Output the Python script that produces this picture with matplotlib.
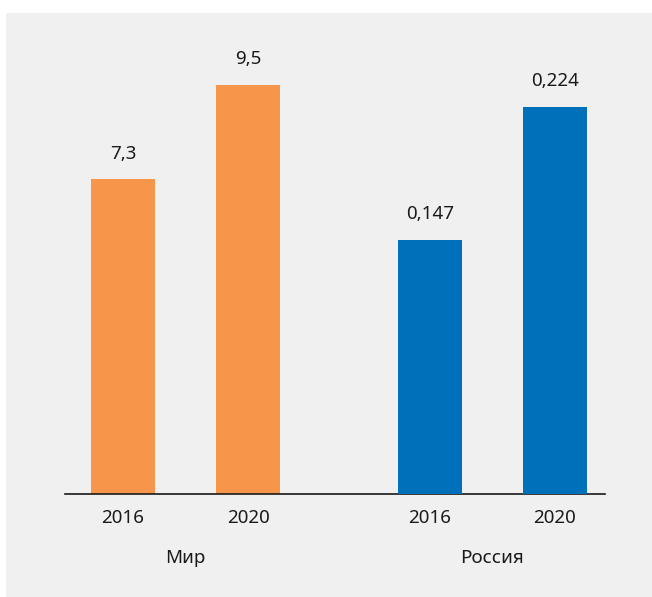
import matplotlib.pyplot as plt
from matplotlib.patches import Rectangle

years = ['2016', '2020']
world_values = [7.3, 9.5]
russia_values = [0.147, 0.224]
world_labels = ['7,3', '9,5']
russia_labels = ['0,147', '0,224']
groups = ['Мир', 'Россия']

plt.rcParams['font.family'] = ['Noto Sans', 'DejaVu Sans']

W, H = 652, 597
fig = plt.figure(figsize=(W / 100, H / 100), dpi=100, facecolor='white')
fig.patches.append(Rectangle((6 / W, 0), 1, (H - 13) / H, transform=fig.transFigure,
                             facecolor='#f0f0f0', edgecolor='none', zorder=-1))

# axes box in pixels: left 65, right 605, baseline 494, top 60
ax = fig.add_axes([65 / W, (H - 494) / H, 540 / W, 434 / H])
ax.patch.set_visible(False)
ax2 = ax.twinx()

x_world = [0, 1]
x_russia = [2.456, 3.456]
bw = 0.512

ax.bar(x_world, world_values, width=bw, color='#f7964a')
ax2.bar(x_russia, russia_values, width=bw, color='#0070ba')

ax.set_xlim(-0.464, 3.856)
ax.set_ylim(0, 10.07)
ax2.set_ylim(0, 0.2513)

fs = 13.5
for a, xs, vals, labs in [(ax, x_world, world_values, world_labels),
                          (ax2, x_russia, russia_values, russia_labels)]:
    for x, v, t in zip(xs, vals, labs):
        a.annotate(t, (x, v), xytext=(0, 12), textcoords='offset points',
                   ha='center', va='bottom', fontsize=fs, color='#1a1a1a')

for a in (ax, ax2):
    for s in ['top', 'right', 'left']:
        a.spines[s].set_visible(False)
    a.set_yticks([])
ax2.spines['bottom'].set_visible(False)
ax.spines['bottom'].set_color('#1a1a1a')
ax.spines['bottom'].set_linewidth(1.2)

ax.set_xticks(x_world + x_russia)
ax.set_xticklabels(years + years, fontsize=fs, color='#1a1a1a')
ax.tick_params(axis='x', length=0, pad=11)

for x, g in zip([0.5, 2.956], groups):
    ax.text(x, -0.147, g, transform=ax.get_xaxis_transform(), ha='center', va='center',
            fontsize=fs, color='#1a1a1a')

fig.savefig('out.png', dpi=100, facecolor='white')
